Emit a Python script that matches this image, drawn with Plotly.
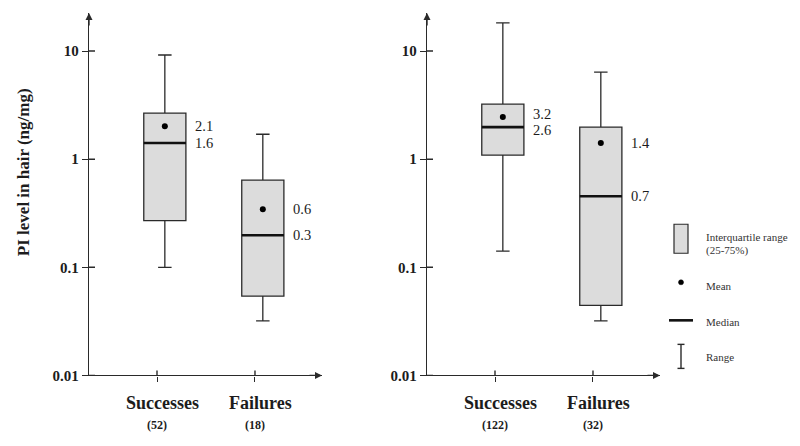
import math
import plotly.graph_objects as go

# ---------------- data ----------------
groups = ["Successes", "Failures"]
left_counts = ["(52)", "(18)"]
right_counts = ["(122)", "(32)"]

left_min = [0.10, 0.032]
left_q1 = [0.27, 0.054]
left_median = [1.41, 0.198]
left_q3 = [2.67, 0.64]
left_max = [9.2, 1.70]
left_mean = [2.02, 0.344]
left_mean_labels = ["2.1", "0.6"]
left_median_labels = ["1.6", "0.3"]

right_min = [0.141, 0.032]
right_q1 = [1.09, 0.0445]
right_median = [1.98, 0.454]
right_q3 = [3.23, 1.98]
right_max = [18.2, 6.39]
right_mean = [2.45, 1.41]
right_mean_labels = ["3.2", "1.4"]
right_median_labels = ["2.6", "0.7"]

y_ticks = [0.01, 0.1, 1, 10]
y_tick_labels = ["0.01", "0.1", "1", "10"]

legend_labels = ["Interquartile range", "(25-75%)", "Mean", "Median", "Range"]
y_title = "PI level in hair (ng/mg)"

# ---------------- style ----------------
X_OFF, Y_OFF = 8, 8      # page offset of the plot div
Y_SCALE = 0.981          # observed vertical scale of the photographed page
W, H = 800 - X_OFF, 446
SERIF = "Liberation Serif"
INK = "#1c1c1c"
LINE = "#2a2a2a"
FILL = "#dcdcdc"
cat_ticks = [0, 1]
box_offset = 0.08
box_width = 0.43
x_range = [-0.694, 1.684]
y_range = [-2, 1.352]


def px(x):
    return (x - X_OFF) / W


def py(y):
    return 1 - (y - Y_OFF) / Y_SCALE / H


panels = [
    dict(xa="x", ya="y", dom=[px(89), px(322)], counts=left_counts,
         mn=left_min, q1=left_q1, med=left_median, q3=left_q3, mx=left_max,
         mean=left_mean, ml=left_mean_labels, mdl=left_median_labels),
    dict(xa="x2", ya="y2", dom=[px(427), px(660)], counts=right_counts,
         mn=right_min, q1=right_q1, med=right_median, q3=right_q3, mx=right_max,
         mean=right_mean, ml=right_mean_labels, mdl=right_median_labels),
]

fig = go.Figure()
annotations = []
shapes = []

for i, p in enumerate(panels):
    pos = [t + box_offset for t in cat_ticks]
    fig.add_trace(go.Box(
        x=pos, q1=p["q1"], median=p["med"], q3=p["q3"],
        lowerfence=p["mn"], upperfence=p["mx"],
        width=box_width, whiskerwidth=0.32,
        fillcolor=FILL, line=dict(color=LINE, width=1.3),
        boxpoints=False, hoverinfo="skip", showlegend=False,
        xaxis=p["xa"], yaxis=p["ya"],
    ))
    # thick median lines
    for x0, m in zip(pos, p["med"]):
        fig.add_trace(go.Scatter(
            x=[x0 - box_width / 2, x0 + box_width / 2], y=[m, m],
            mode="lines", line=dict(color="#111", width=2.6),
            hoverinfo="skip", showlegend=False, xaxis=p["xa"], yaxis=p["ya"],
        ))
    # means
    fig.add_trace(go.Scatter(
        x=pos, y=p["mean"], mode="markers",
        marker=dict(color="#000", size=6),
        hoverinfo="skip", showlegend=False, xaxis=p["xa"], yaxis=p["ya"],
    ))
    # value labels
    min_sep = 16 / 108.0
    for x0, mv, md, mlab, mdlab in zip(pos, p["mean"], p["med"], p["ml"], p["mdl"]):
        lm, ld = math.log10(mv), math.log10(md)
        gap = lm - ld
        if gap < min_sep:
            push = (min_sep - gap) / 2
            lm += push
            ld -= push
        for ly, txt in ((lm, mlab), (ld, mdlab)):
            annotations.append(dict(
                x=x0 + box_width / 2 + 0.07, y=ly, xref=p["xa"], yref=p["ya"],
                text=txt, showarrow=False, xanchor="left", yanchor="middle",
                font=dict(family=SERIF, size=14.5, color=INK),
            ))
    # category labels
    for t, g, c in zip(cat_ticks, groups, p["counts"]):
        annotations.append(dict(
            x=t + 0.06, y=py(403), xref=p["xa"], yref="paper", text=g,
            showarrow=False, xanchor="center", yanchor="middle",
            font=dict(family=SERIF, size=18, color=INK, weight=700),
        ))
        annotations.append(dict(
            x=t, y=py(425), xref=p["xa"], yref="paper", text=c,
            showarrow=False, xanchor="center", yanchor="middle",
            font=dict(family=SERIF, size=12, color=INK, weight=700),
        ))
    # axis arrowheads
    annotations.append(dict(
        x=0, y=1, xref=p["xa"] + " domain", yref=p["ya"] + " domain",
        ax=0, ay=14, text="", showarrow=True, arrowhead=2, arrowsize=1,
        arrowwidth=1.4, arrowcolor=LINE, standoff=0,
    ))
    annotations.append(dict(
        x=1, y=0, xref=p["xa"] + " domain", yref=p["ya"] + " domain",
        ax=-14, ay=0, text="", showarrow=True, arrowhead=2, arrowsize=1,
        arrowwidth=1.4, arrowcolor=LINE, standoff=0,
    ))
    # inner halves of crossing ticks
    for v in y_ticks:
        shapes.append(dict(type="line", xref=p["xa"] + " domain", yref=p["ya"],
                           x0=0, x1=6 / 233, y0=v, y1=v,
                           line=dict(color=LINE, width=1.4)))
    for t in cat_ticks:
        shapes.append(dict(type="line", xref=p["xa"], yref=p["ya"] + " domain",
                           x0=t, x1=t, y0=0, y1=5 / 369,
                           line=dict(color=LINE, width=1.4)))

axis_common = dict(showline=True, linecolor=LINE, linewidth=1.4, showgrid=False,
                   zeroline=False, fixedrange=True, ticks="outside",
                   tickcolor=LINE, tickwidth=1.4)

layout = dict(
    width=W, height=H, margin=dict(l=0, r=0, t=0, b=0),
    paper_bgcolor="white", plot_bgcolor="white", showlegend=False,
    boxmode="overlay",
)
for i, p in enumerate(panels):
    sfx = "" if i == 0 else "2"
    layout["xaxis" + sfx] = dict(axis_common, domain=p["dom"], range=x_range,
                                 tickvals=cat_ticks, ticktext=["", ""], ticklen=5,
                                 anchor=p["ya"])
    layout["yaxis" + sfx] = dict(axis_common, domain=[py(375), py(13)], type="log",
                                 range=y_range, tickvals=y_ticks, ticktext=y_tick_labels,
                                 ticklen=6, anchor=p["xa"],
                                 tickfont=dict(family=SERIF, size=15, color=INK, weight=700))

# y axis title
annotations.append(dict(
    x=px(23), y=py(172), xref="paper", yref="paper", text=y_title, textangle=-90,
    showarrow=False, xanchor="center", yanchor="middle",
    font=dict(family=SERIF, size=17, color=INK, weight=700),
))

# legend (drawn manually)
shapes.append(dict(type="rect", xref="paper", yref="paper",
                   x0=px(674), x1=px(688), y0=py(253), y1=py(224),
                   fillcolor=FILL, line=dict(color=LINE, width=1.2)))
shapes.append(dict(type="circle", xref="paper", yref="paper",
                   x0=px(678.5), x1=px(683.5), y0=py(284.5), y1=py(279.5),
                   fillcolor="#000", line=dict(color="#000", width=0.5)))
shapes.append(dict(type="line", xref="paper", yref="paper",
                   x0=px(669), x1=px(693), y0=py(320), y1=py(320),
                   line=dict(color="#111", width=2.6)))
shapes.append(dict(type="line", xref="paper", yref="paper",
                   x0=px(681), x1=px(681), y0=py(344), y1=py(368),
                   line=dict(color=LINE, width=1.4)))
for yy in (344, 368):
    shapes.append(dict(type="line", xref="paper", yref="paper",
                       x0=px(677.5), x1=px(684.5), y0=py(yy), y1=py(yy),
                       line=dict(color=LINE, width=1.4)))
legend_y = [237, 250, 286, 322, 357]
for txt, yy in zip(legend_labels, legend_y):
    annotations.append(dict(
        x=px(704), y=py(yy), xref="paper", yref="paper", text=txt,
        showarrow=False, xanchor="left", yanchor="middle",
        font=dict(family=SERIF, size=11, color="#333"),
    ))

layout["annotations"] = annotations
layout["shapes"] = shapes
fig.update_layout(**layout)
fig.write_html("out.html")
